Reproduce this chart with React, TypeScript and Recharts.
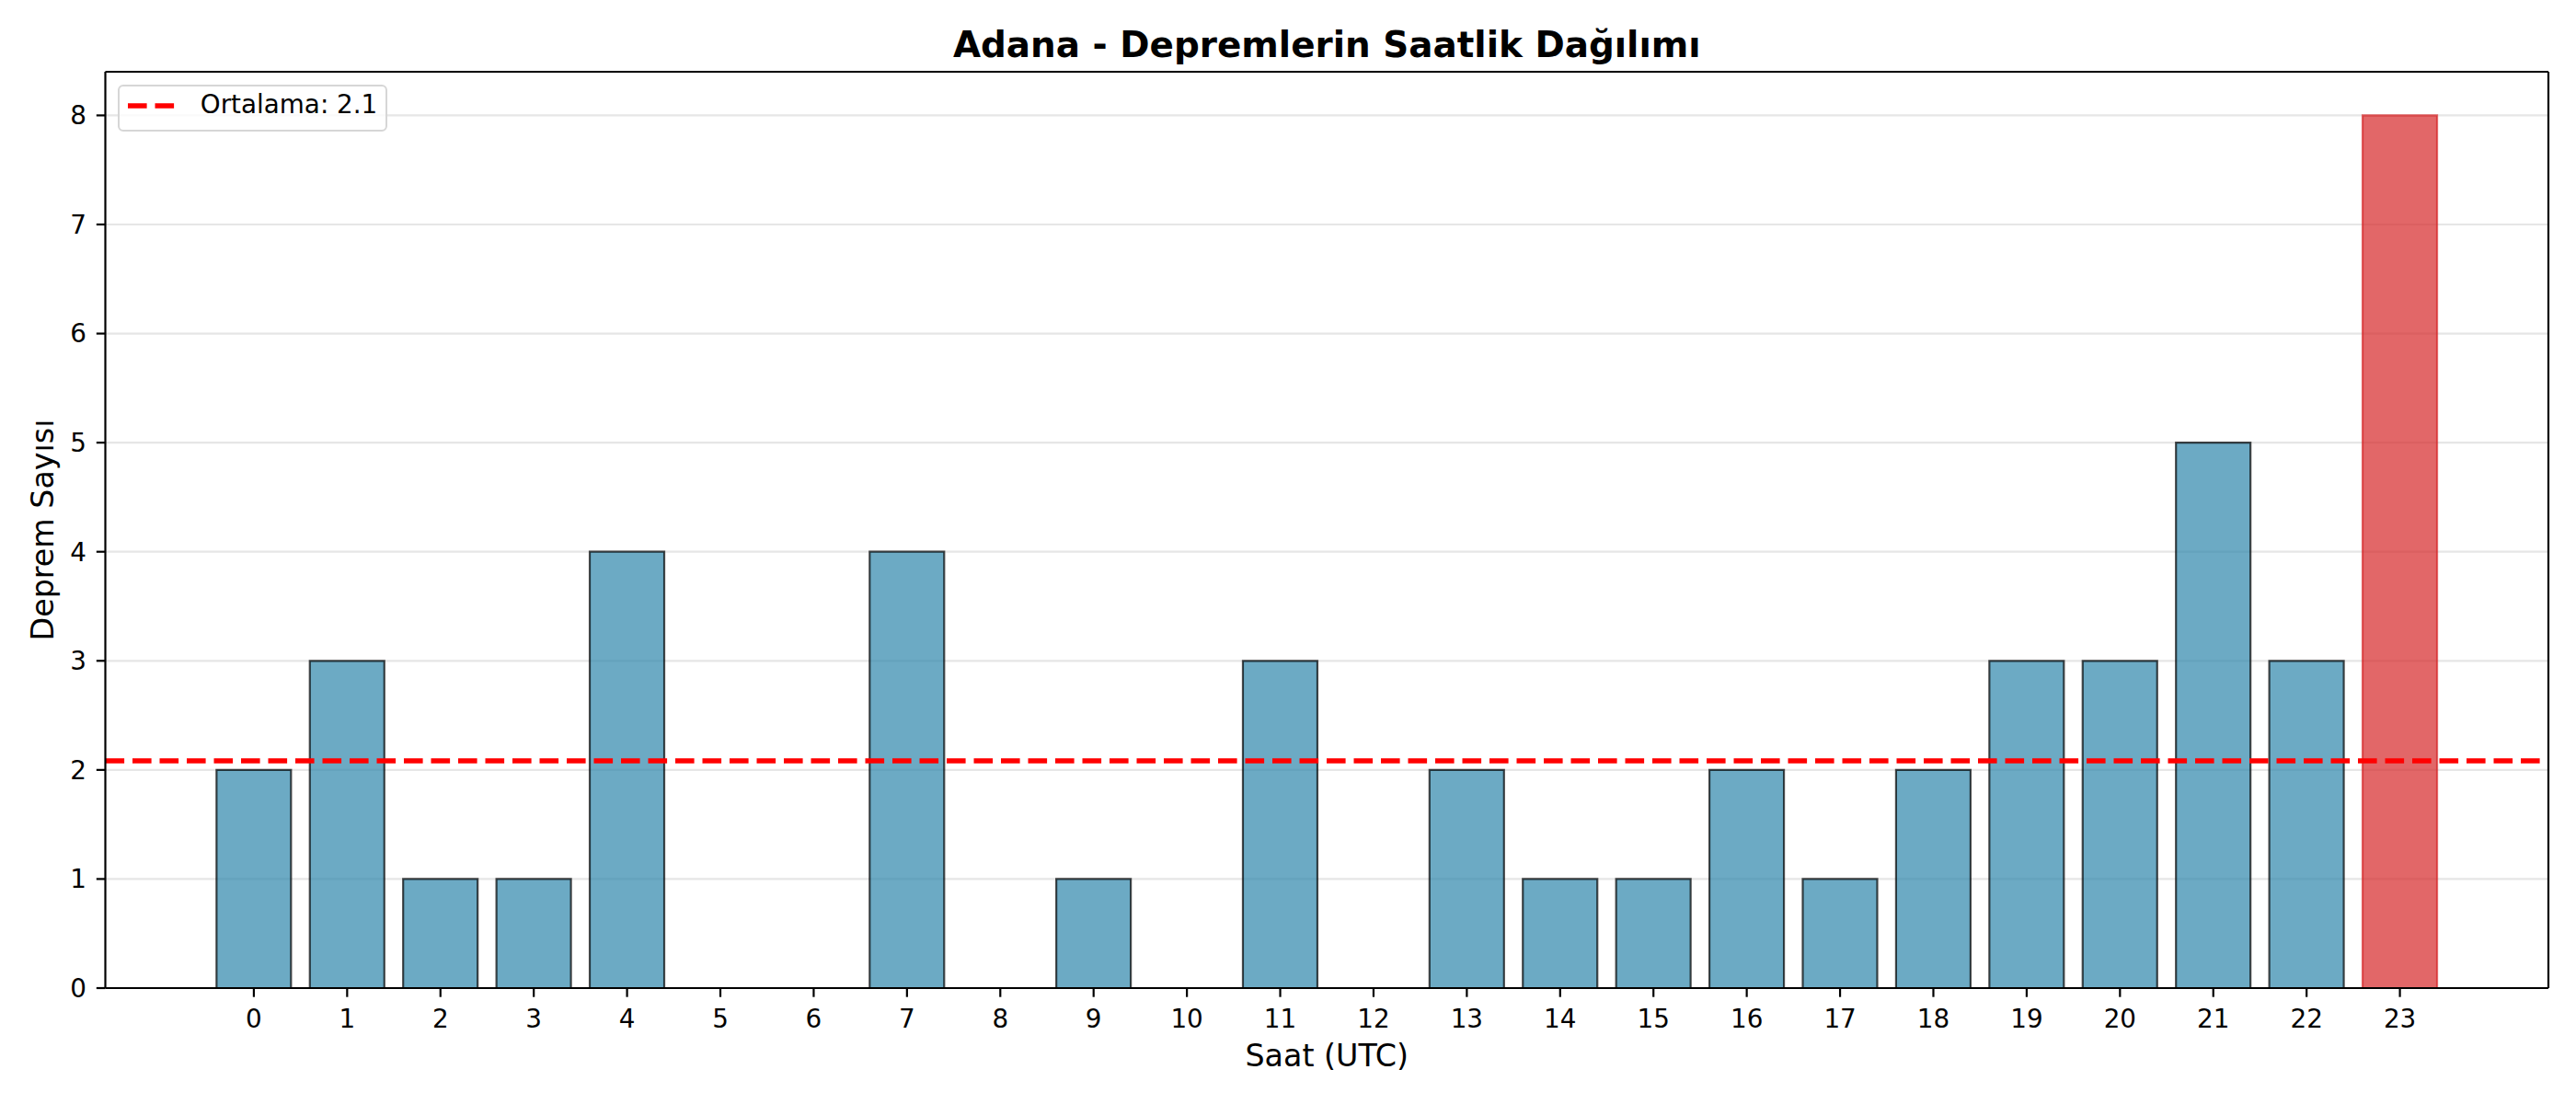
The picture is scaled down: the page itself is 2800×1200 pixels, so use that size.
import React from 'react';
import {
  BarChart,
  Bar,
  XAxis,
  YAxis,
  CartesianGrid,
  ReferenceLine,
  Legend,
  Cell,
} from 'recharts';

const hours: string[] = [
  '0', '1', '2', '3', '4', '5', '6', '7', '8', '9', '10', '11',
  '12', '13', '14', '15', '16', '17', '18', '19', '20', '21', '22', '23',
];
const counts: number[] = [2, 3, 1, 1, 4, 0, 0, 4, 0, 1, 0, 3, 0, 2, 1, 1, 2, 1, 2, 3, 3, 5, 3, 8];
const yTicks: number[] = [0, 1, 2, 3, 4, 5, 6, 7, 8];

const TITLE = 'Adana - Depremlerin Saatlik Dağılımı';
const X_LABEL = 'Saat (UTC)';
const Y_LABEL = 'Deprem Sayısı';

const data = hours.map((h, i) => ({ hour: h, count: counts[i] }));
const mean = counts.reduce((a, b) => a + b, 0) / counts.length;
const maxCount = Math.max(...counts);

const FONT = '"DejaVu Sans", sans-serif';
const W = 2800;
const H = 1200;
const PLOT_LEFT = 114.5;
const PLOT_RIGHT = 2770;
const PLOT_TOP = 78;
const PLOT_BOTTOM = 1074;

const LegendBox = () => (
  <div
    style={{
      position: 'relative',
      width: 292.6,
      height: 50.7,
      boxSizing: 'border-box',
      border: '2.2px solid #d6d6d6',
      borderRadius: 6,
      background: 'rgba(255,255,255,0.8)',
      fontFamily: FONT,
    }}
  >
    <svg
      width={56}
      height={12}
      style={{ position: 'absolute', left: 9, top: 14.5 }}
    >
      <line
        x1={0}
        y1={6}
        x2={55.6}
        y2={6}
        stroke="#ff0000"
        strokeWidth={5.56}
        strokeDasharray="20.6 8.9"
      />
    </svg>
    <div
      style={{
        position: 'absolute',
        left: 87.4,
        top: 6,
        fontSize: 27.8,
        lineHeight: '27.8px',
        color: '#000',
        whiteSpace: 'nowrap',
      }}
    >
      {`Ortalama: ${mean.toFixed(1)}`}
    </div>
  </div>
);

export default function App() {
  return (
    <div style={{ position: 'relative', width: W, height: H, background: '#fff', fontFamily: FONT }}>
      <style>{'body{margin:0;}'}</style>
      <div
        style={{
          position: 'absolute',
          left: PLOT_LEFT,
          width: PLOT_RIGHT - PLOT_LEFT,
          top: 29.8,
          textAlign: 'center',
          fontSize: 38.9,
          lineHeight: '38.9px',
          fontWeight: 'bold',
          color: '#000',
          whiteSpace: 'nowrap',
        }}
      >
        {TITLE}
      </div>
      <BarChart
        width={W}
        height={H}
        data={data}
        margin={{ top: PLOT_TOP - 1, right: W - PLOT_RIGHT - 1, bottom: 0, left: 0 }}
        barCategoryGap="10%"
      >
        <CartesianGrid vertical={false} stroke="#e6e6e6" strokeWidth={2.2} />
        <XAxis
          dataKey="hour"
          type="category"
          height={H - PLOT_BOTTOM}
          padding={{ left: 110.7, right: 110.7 }}
          interval={0}
          tickSize={9.7}
          tickMargin={13.3}
          axisLine={{ stroke: '#000', strokeWidth: 2.2 }}
          tickLine={{ stroke: '#000', strokeWidth: 2.2 }}
          tick={{ fontSize: 27.8, fill: '#000', fontFamily: FONT }}
          label={{
            value: X_LABEL,
            position: 'insideBottom',
            offset: 40.7,
            fontSize: 33.3,
            fill: '#000',
            fontFamily: FONT,
          }}
        />
        <XAxis
          xAxisId="top"
          dataKey="hour"
          orientation="top"
          height={1}
          tick={false}
          tickLine={false}
          axisLine={{ stroke: '#000', strokeWidth: 2.2 }}
        />
        <YAxis
          type="number"
          domain={[0, 8.4]}
          ticks={yTicks}
          width={PLOT_LEFT}
          tickSize={9.7}
          tickMargin={10.8}
          axisLine={{ stroke: '#000', strokeWidth: 2.2 }}
          tickLine={{ stroke: '#000', strokeWidth: 2.2 }}
          tick={{ fontSize: 27.8, fill: '#000', fontFamily: FONT }}
          label={{
            value: Y_LABEL,
            angle: -90,
            position: 'insideLeft',
            offset: 46,
            fontSize: 33.3,
            fill: '#000',
            fontFamily: FONT,
            style: { textAnchor: 'middle' },
          }}
        />
        <YAxis
          yAxisId="right"
          orientation="right"
          type="number"
          domain={[0, 8.4]}
          width={1}
          tick={false}
          tickLine={false}
          axisLine={{ stroke: '#000', strokeWidth: 2.2 }}
        />
        <Bar dataKey="count" isAnimationActive={false} strokeWidth={2.2}>
          {data.map((d, i) => {
            const hi = d.count === maxCount;
            return (
              <Cell
                key={`c-${i}`}
                fill={hi ? '#d62728' : '#2E86AB'}
                fillOpacity={0.7}
                stroke={hi ? '#d62728' : '#000000'}
                strokeOpacity={0.7}
              />
            );
          })}
        </Bar>
        <ReferenceLine
          y={mean}
          stroke="#ff0000"
          strokeWidth={5.56}
          strokeDasharray="20.6 8.9"
        />
        <Legend
          layout="vertical"
          align="center"
          verticalAlign="middle"
          content={() => <LegendBox />}
          wrapperStyle={{ left: 128.4, top: 92, width: 'auto', height: 'auto' }}
        />
      </BarChart>
    </div>
  );
}
